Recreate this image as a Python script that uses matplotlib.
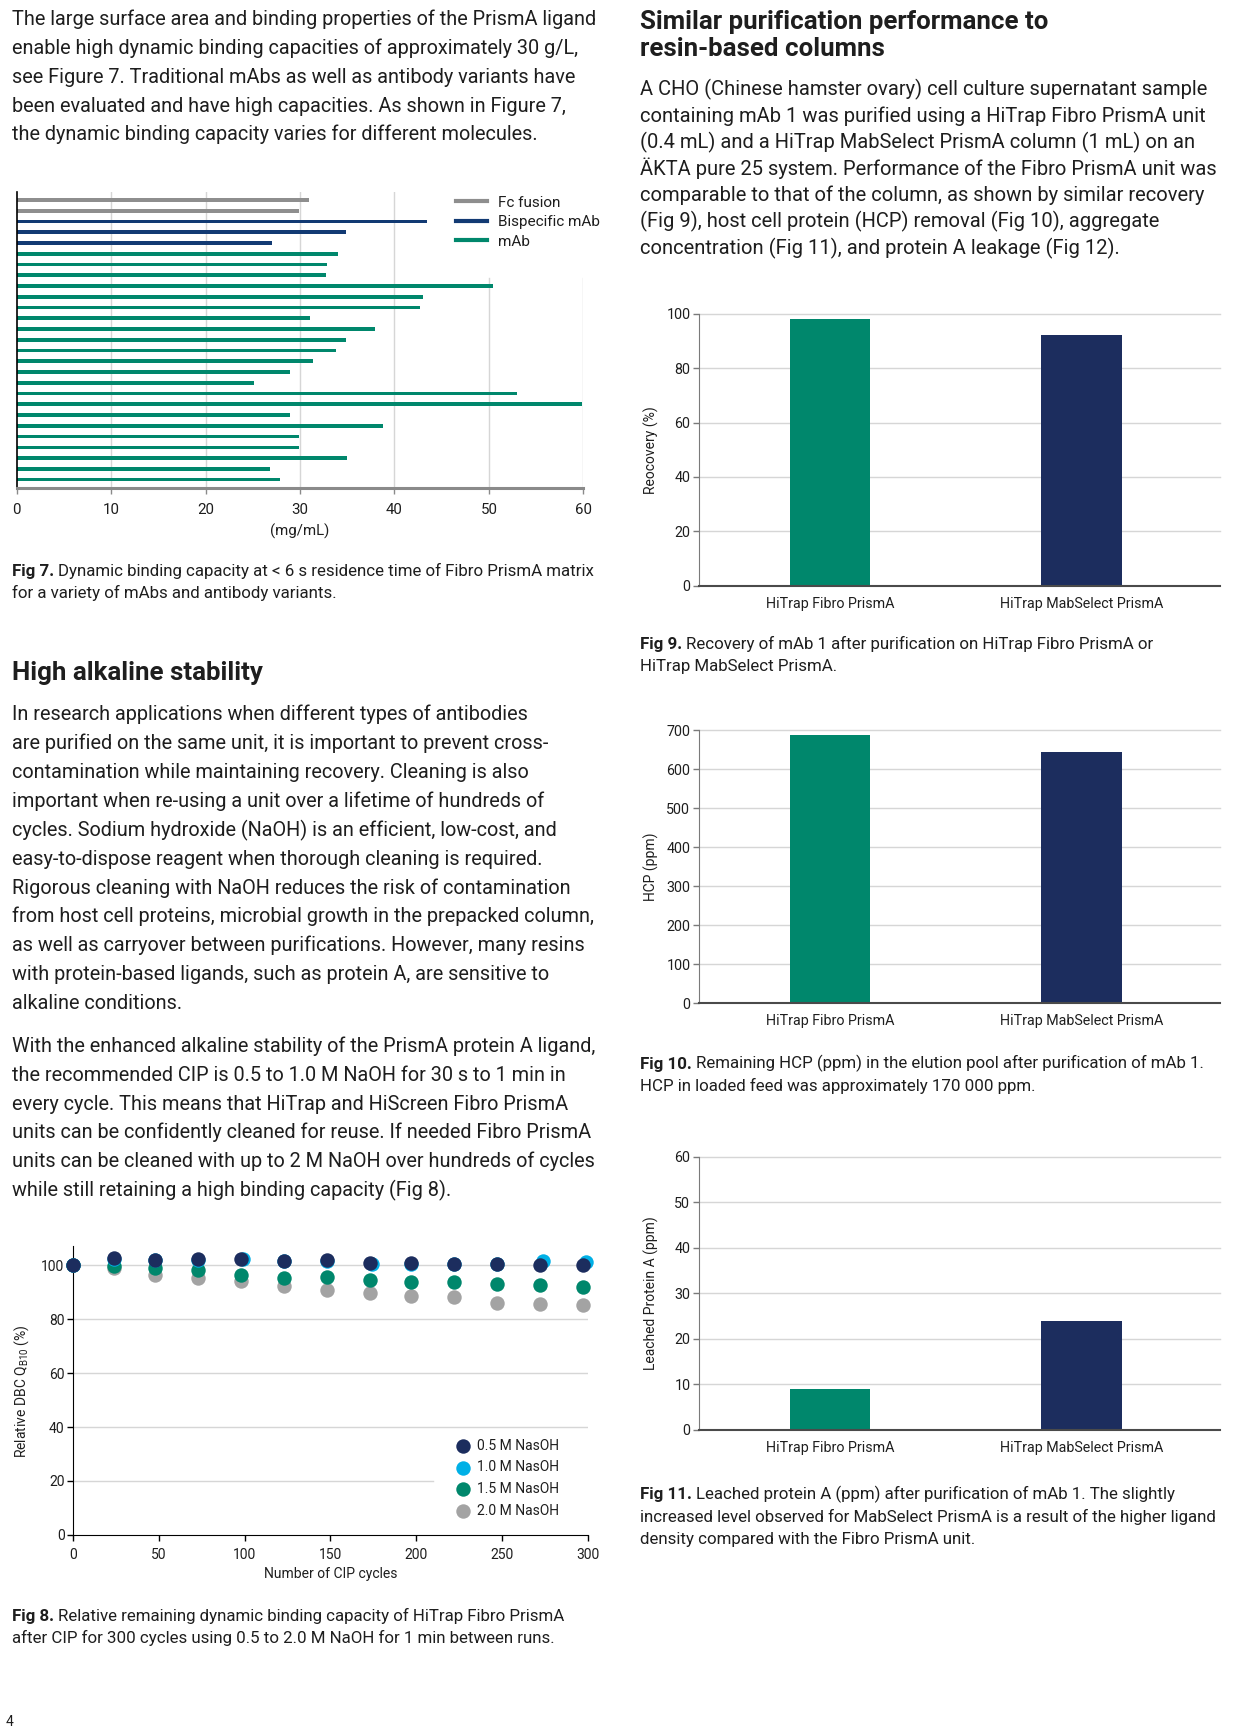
"""
Page 4 of the Fibro PrismA data file: text columns plus Fig 7-11
"""

import matplotlib
matplotlib.use("Agg")
import matplotlib.pyplot as plt
from matplotlib.lines import Line2D
import numpy as np

plt.rcParams["font.family"] = ["Roboto", "DejaVu Sans"]

# ---- data -------------------------------------------------------------
# Fig 7, dynamic binding capacity (mg/mL), top to bottom
fc_fusion = [31.0, 29.9]
bispecific = [43.4, 34.9, 27.0]
mab = [34.0, 32.9, 32.8, 50.4, 43.0, 42.7, 31.1, 37.9, 34.9, 33.8, 31.4,
       28.9, 25.1, 53.0, 59.8, 28.9, 38.8, 29.9, 29.9, 35.0, 26.8, 27.9]

# Fig 8, relative DBC (%) vs number of CIP cycles
cip_cycles = [0, 24, 48, 73, 98, 123, 148, 173, 197, 222, 247, 272, 297]
cip_cycles_10 = [0, 24, 48, 73, 99, 123, 148, 174, 197, 222, 247, 274, 299]
dbc_05 = [100, 102.6, 102.0, 102.2, 102.5, 101.7, 101.9, 101.0, 100.7, 100.5, 100.4, 100.0, 100.0]
dbc_10 = [100, 102.4, 101.8, 102.0, 102.2, 101.5, 101.6, 100.4, 100.5, 100.3, 100.3, 101.5, 101.2]
dbc_15 = [100, 99.8, 99.1, 98.1, 96.3, 95.4, 95.7, 94.7, 93.7, 93.7, 93.0, 92.7, 92.0]
dbc_20 = [100, 98.9, 96.5, 95.2, 94.3, 92.4, 90.9, 89.8, 88.6, 88.2, 86.1, 85.7, 85.1]
naoh_labels = ["0.5 M NasOH", "1.0 M NasOH", "1.5 M NasOH", "2.0 M NasOH"]

# Fig 9-11
units = ["HiTrap Fibro PrismA", "HiTrap MabSelect PrismA"]
recovery = [98.2, 92.2]
hcp = [689, 645]
leached = [9.0, 23.9]

# ---- text -------------------------------------------------------------
intro = [
    "The large surface area and binding properties of the PrismA ligand",
    "enable high dynamic binding capacities of approximately 30 g/L,",
    "see Figure 7. Traditional mAbs as well as antibody variants have",
    "been evaluated and have high capacities. As shown in Figure 7,",
    "the dynamic binding capacity varies for different molecules.",
]
alkaline_1 = [
    "In research applications when different types of antibodies",
    "are purified on the same unit, it is important to prevent cross-",
    "contamination while maintaining recovery. Cleaning is also",
    "important when re-using a unit over a lifetime of hundreds of",
    "cycles. Sodium hydroxide (NaOH) is an efficient, low-cost, and",
    "easy-to-dispose reagent when thorough cleaning is required.",
    "Rigorous cleaning with NaOH reduces the risk of contamination",
    "from host cell proteins, microbial growth in the prepacked column,",
    "as well as carryover between purifications. However, many resins",
    "with protein-based ligands, such as protein A, are sensitive to",
    "alkaline conditions.",
]
alkaline_2 = [
    "With the enhanced alkaline stability of the PrismA protein A ligand,",
    "the recommended CIP is 0.5 to 1.0 M NaOH for 30 s to 1 min in",
    "every cycle. This means that HiTrap and HiScreen Fibro PrismA",
    "units can be confidently cleaned for reuse. If needed Fibro PrismA",
    "units can be cleaned with up to 2 M NaOH over hundreds of cycles",
    "while still retaining a high binding capacity (Fig 8).",
]
purification = [
    "A CHO (Chinese hamster ovary) cell culture supernatant sample",
    "containing mAb 1 was purified using a HiTrap Fibro PrismA unit",
    "(0.4 mL) and a HiTrap MabSelect PrismA column (1 mL) on an",
    "ÄKTA pure 25 system. Performance of the Fibro PrismA unit was",
    "comparable to that of the column, as shown by similar recovery",
    "(Fig 9), host cell protein (HCP) removal (Fig 10), aggregate",
    "concentration (Fig 11), and protein A leakage (Fig 12).",
]

TEXT = "#1e1e1e"
GREEN = "#00876c"
NAVY = "#1c2d5e"
BLUE7 = "#123a73"
GREY7 = "#8e8e8e"
CYAN = "#00b0e6"
GREY8 = "#a3a3a3"
GRID = "#d6d6d6"

W, H = 1244, 1734
S = 1.105  # layout below was measured on a scaled-down copy of the page

fig = plt.figure(figsize=(W / 100, H / 100), dpi=100)
renderer = fig.canvas.get_renderer()


def fx(x):
    return x * S / W


def fy(y):
    return 1 - y * S / H


def add_ax(left, top, right, bottom):
    return fig.add_axes([fx(left), fy(bottom), fx(right) - fx(left), fy(top) - fy(bottom)])


def paragraph(x, y0, step, rows, size=14.3, weight="normal"):
    for i, row in enumerate(rows):
        fig.text(fx(x), fy(y0 + i * step), row, fontsize=size, weight=weight,
                 color=TEXT, va="baseline")


def caption(x, y0, label, rows, size=12.2, step=20):
    t = fig.text(fx(x), fy(y0), label, fontsize=size, weight="bold", color=TEXT, va="baseline")
    w = t.get_window_extent(renderer).width
    fig.text(fx(x) + (w + 4) / W, fy(y0), rows[0], fontsize=size, color=TEXT, va="baseline")
    for i, row in enumerate(rows[1:], start=1):
        fig.text(fx(x), fy(y0 + i * step), row, fontsize=size, color=TEXT, va="baseline")


# ---- text blocks ------------------------------------------------------
paragraph(11, 23, 26, intro)
caption(11, 521, "Fig 7.", ["Dynamic binding capacity at < 6 s residence time of Fibro PrismA matrix",
                            "for a variety of mAbs and antibody variants."])
paragraph(11, 615, 0, ["High alkaline stability"], size=18.6, weight="bold")
paragraph(11, 652, 26.1, alkaline_1)
paragraph(11, 952, 26.1, alkaline_2)
caption(11, 1467, "Fig 8.", ["Relative remaining dynamic binding capacity of HiTrap Fibro PrismA",
                             "after CIP for 300 cycles using 0.5 to 2.0 M NaOH for 1 min between runs."])
fig.text(fx(5), fy(1562), "4", fontsize=10, color=TEXT, va="baseline")

paragraph(579, 26, 25, ["Similar purification performance to", "resin-based columns"],
          size=18.6, weight="bold")
paragraph(579, 86, 24, purification, size=14.5)
caption(579, 587, "Fig 9.", ["Recovery of mAb 1 after purification on HiTrap Fibro PrismA or",
                             "HiTrap MabSelect PrismA."])
caption(579, 967, "Fig 10.", ["Remaining HCP (ppm) in the elution pool after purification of mAb 1.",
                              "HCP in loaded feed was approximately 170 000 ppm."])
caption(579, 1357, "Fig 11.", ["Leached protein A (ppm) after purification of mAb 1. The slightly",
                               "increased level observed for MabSelect PrismA is a result of the higher ligand",
                               "density compared with the Fibro PrismA unit."])

# ---- Fig 7 -------------------------------------------------------------
ax7 = add_ax(15, 174, 528, 442)
values7 = fc_fusion + bispecific + mab
colors7 = [GREY7] * len(fc_fusion) + [BLUE7] * len(bispecific) + [GREEN] * len(mab)
pos7 = np.arange(len(values7))
ax7.barh(pos7, values7, height=0.34, color=colors7, zorder=2)
ax7.set_xlim(0, 60)
ax7.set_ylim(len(values7) - 0.18, -0.72)
for v in range(10, 41, 10):
    ax7.axvline(v, color=GRID, lw=1, zorder=0)
for v in (50, 60):
    ax7.axvline(v, ymax=0.71, color=GRID, lw=1, zorder=0)
for side in ("top", "right"):
    ax7.spines[side].set_visible(False)
ax7.spines["left"].set_color("black")
ax7.spines["left"].set_linewidth(1.2)
ax7.spines["bottom"].set_color("#8a8a8a")
ax7.spines["bottom"].set_linewidth(2.2)
ax7.set_yticks([])
ax7.set_xticks(range(0, 61, 10))
ax7.tick_params(axis="x", length=4, width=1, color="#8a8a8a", labelsize=10.8,
                labelcolor=TEXT, pad=6.4)
ax7.set_xlabel("(mg/mL)", fontsize=10.8, color=TEXT, labelpad=5)
handles7 = [Line2D([], [], color=c, lw=3) for c in (GREY7, BLUE7, GREEN)]
ax7.legend(handles7, ["Fc fusion", "Bispecific mAb", "mAb"], loc="upper left",
           bbox_to_anchor=(fx(413), fy(177)), bbox_transform=fig.transFigure,
           frameon=False, fontsize=11, handlelength=2.0, handletextpad=0.7,
           labelspacing=0.36, borderpad=0, borderaxespad=0, labelcolor=TEXT)

# ---- Fig 8 -------------------------------------------------------------
ax8 = add_ax(66, 1128, 532, 1389)
dot = 108
s20 = ax8.scatter(cip_cycles, dbc_20, s=dot, color=GREY8, zorder=3, clip_on=False, linewidths=0)
s15 = ax8.scatter(cip_cycles, dbc_15, s=dot, color=GREEN, zorder=4, clip_on=False, linewidths=0)
s10 = ax8.scatter(cip_cycles_10, dbc_10, s=dot, color=CYAN, zorder=5, clip_on=False, linewidths=0)
s05 = ax8.scatter(cip_cycles, dbc_05, s=dot, color=NAVY, zorder=6, clip_on=False, linewidths=0)
ax8.set_xlim(0, 300)
ax8.set_ylim(0, 107)
for v in (40, 60, 80, 100):
    ax8.axhline(v, color=GRID, lw=1, zorder=0)
ax8.axhline(20, xmax=0.70, color=GRID, lw=1, zorder=0)
for side in ("top", "right"):
    ax8.spines[side].set_visible(False)
ax8.set_xticks(range(0, 301, 50))
ax8.set_yticks(range(0, 101, 20))
ax8.tick_params(axis="x", length=4, width=1, labelsize=10, labelcolor=TEXT, pad=5.4)
ax8.tick_params(axis="y", length=4, width=1, labelsize=10, labelcolor=TEXT, pad=2)
ax8.set_xlabel("Number of CIP cycles", fontsize=10, color=TEXT, labelpad=3.5)
ax8.set_ylabel(r"Relative DBC Q$_{\mathregular{B10}}$ (%)", fontsize=10, color=TEXT)
ax8.yaxis.set_label_coords(-0.082, 0.5)
ax8.legend([s05, s10, s15, s20], naoh_labels, loc="upper left",
           bbox_to_anchor=(fx(413), fy(1302)), bbox_transform=fig.transFigure,
           frameon=False, fontsize=10, scatterpoints=1, handlelength=1.0,
           handletextpad=0.45, labelspacing=0.55, borderpad=0, borderaxespad=0,
           labelcolor=TEXT)


# ---- Fig 9-11 ------------------------------------------------------------
def bar_panel(top, bottom, values, ymax, step, ylabel):
    ax = add_ax(633, top, 1104, bottom)
    ax.bar(range(len(values)), values, width=0.32, color=[GREEN, NAVY], zorder=2)
    ax.set_xlim(-0.518, 1.549)
    ax.set_ylim(0, ymax)
    ticks = np.arange(0, ymax + step / 2, step)
    for v in ticks[1:]:
        ax.axhline(v, color=GRID, lw=1, zorder=0, clip_on=False)
    for side in ("top", "right"):
        ax.spines[side].set_visible(False)
    ax.spines["left"].set_color("#7a7a7a")
    ax.spines["bottom"].set_color("#4a4a4a")
    ax.spines["bottom"].set_linewidth(1.5)
    ax.set_yticks(ticks)
    ax.set_xticks(range(len(values)))
    ax.set_xticklabels(units)
    ax.tick_params(axis="y", length=4, width=1, color="#7a7a7a", labelsize=10.3,
                   labelcolor=TEXT, pad=2.5)
    ax.tick_params(axis="x", length=0, labelsize=10.3, labelcolor=TEXT, pad=8)
    ax.set_ylabel(ylabel, fontsize=10, color=TEXT)
    ax.yaxis.set_label_coords(-0.078, 0.5)
    return ax


bar_panel(284, 530, recovery, 100, 20, "Reocovery (%)")
bar_panel(661, 908, hcp, 700, 100, "HCP (ppm)")
bar_panel(1047, 1294, leached, 60, 10, "Leached Protein A (ppm)")

fig.savefig("out.png", dpi=100)
